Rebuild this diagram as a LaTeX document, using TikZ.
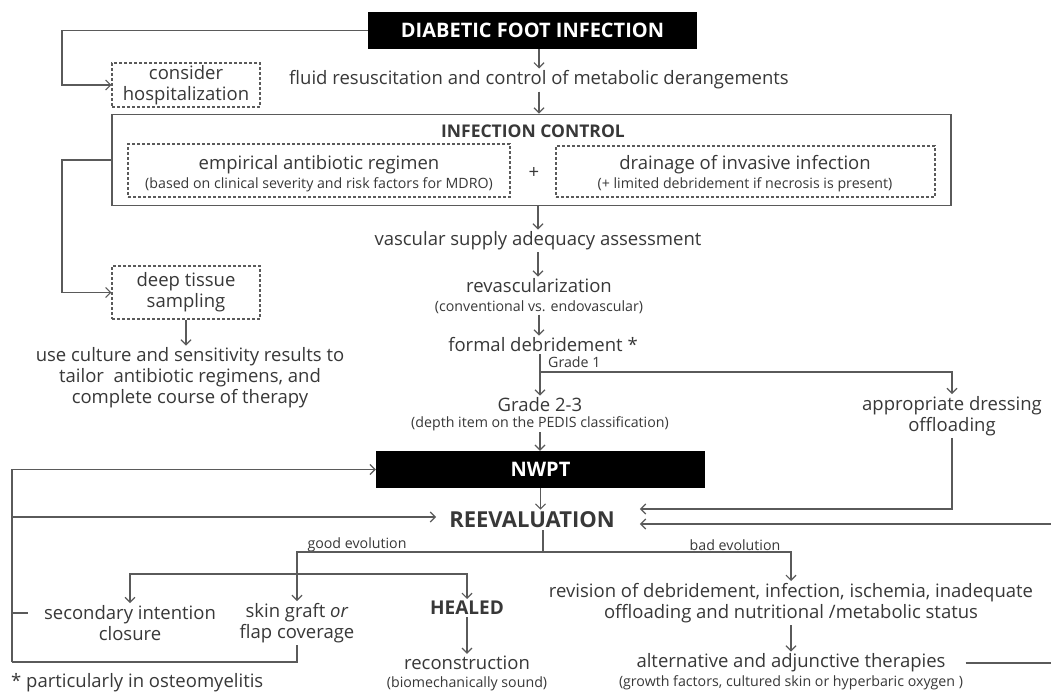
\documentclass[tikz,border=0pt]{standalone}
\usepackage{fontspec}
\setmainfont{Open Sans}
\usetikzlibrary{arrows.meta,calc}
\definecolor{lc}{HTML}{5A5A5A}
\definecolor{tc}{HTML}{383838}
\begin{document}
\begin{tikzpicture}[x=1pt,y=-1pt,
  conn/.style={draw=lc, line width=1.2pt},
  arr/.style={conn, -{Straight Barb[length=5pt,width=10pt]}},
  txt/.style={text=tc, font=\fontsize{18.5}{21}\selectfont, align=center, inner sep=2pt},
  sm/.style={text=tc, font=\fontsize{14.2}{16}\selectfont, inner sep=1pt},
  bold/.style={text=tc, font=\bfseries\fontsize{19}{22}\selectfont, inner sep=2pt},
  blk/.style={fill=black, text=white, font=\bfseries\fontsize{20}{22}\selectfont, minimum width=329pt, minimum height=37pt, inner sep=0pt},
  dbox/.style={draw=lc, line width=1.1pt, dash pattern=on 3pt off 2pt, text=tc, font=\fontsize{18.5}{21}\selectfont, align=center, inner sep=0pt},
]
\useasboundingbox (0,0) rectangle (1051,693);
\fill[white] (0,0) rectangle (1051,693);
\coordinate (lft) at (62,0);
\coordinate (br) at (540,372);
\coordinate (rb) at (543,552);
\coordinate (gb) at (297,574);
\coordinate (bl) at (12,662);
\coordinate (redge) at (1062,0);

% nodes
\node[blk] (title) at (532.5,30.5) {DIABETIC FOOT INFECTION};
\node[dbox, minimum width=148pt, minimum height=44pt] (hosp) at (186,85) {consider\\hospitalization};
\node[txt] (fluid) at (539,80) {fluid resuscitation and control of metabolic derangements};
\node[draw=lc, line width=1.8pt, minimum width=839pt, minimum height=91pt, inner sep=0pt] (ic) at (531.5,160) {};
\node[bold, font=\bfseries\fontsize{17.5}{20}\selectfont] (ict) at (533,131) {INFECTION CONTROL};
\node[dbox, minimum width=382pt, minimum height=53pt] (emp) at (319,170.5) {};
\node[txt] (empt) at (319,165) {empirical antibiotic regimen};
\node[sm] (emps) at (319,185) {(based on clinical severity and risk factors for MDRO)};
\node[txt] (plus) at (534,173) {+};
\node[dbox, minimum width=379pt, minimum height=51pt] (drain) at (745.5,171.5) {};
\node[txt] (drt) at (745,165) {drainage of invasive infection};
\node[sm] (drs) at (745,185) {(+ limited debridement if necrosis is present)};
\node[txt] (vasc) at (538,241) {vascular supply adequacy assessment};
\node[txt] (revasc) at (539,286) {revascularization};
\node[sm] (revascs) at (539,307) {(conventional vs. endovascular)};
\node[txt] (debr) at (543,345) {formal debridement *};
\node[sm, anchor=west] (g1) at (547,362) {Grade 1};
\node[txt] (g23) at (540,405) {Grade 2-3};
\node[sm] (g23s) at (540,424) {(depth item on the PEDIS classification)};
\node[txt] (dress) at (952,416) {appropriate dressing\\offloading};
\node[blk] (nwpt) at (540.5,469.5) {NWPT};
\node[bold, font=\bfseries\fontsize{22}{24}\selectfont, inner xsep=13pt] (reeval) at (532,520) {REEVALUATION};
\node[dbox, minimum width=148pt, minimum height=53pt] (deep) at (186,292.5) {deep tissue\\sampling};
\node[txt] (culture) at (190,378) {use culture and sensitivity results to\\tailor\ \ antibiotic regimens, and\\complete course of therapy};
\node[sm] (good) at (357,545) {good evolution};
\node[sm] (bad) at (735,545) {bad evolution};
\node[txt] (sec) at (130,623) {secondary intention\\closure};
\node[txt] (skin) at (297,623) {skin graft \textit{or}\\flap coverage};
\node[bold] (healed) at (467,608) {HEALED};
\node[txt] (recon) at (467,663) {reconstruction};
\node[sm] (recons) at (467,684) {(biomechanically sound)};
\node[txt] (rev) at (791,603) {revision of debridement, infection, ischemia, inadequate\\offloading and nutritional /metabolic status};
\node[txt] (alt) at (791,663) {alternative and adjunctive therapies};
\node[sm] (alts) at (791,683) {(growth factors, cultured skin or hyperbaric oxygen )};
\node[txt, anchor=west] (foot) at (9,683) {* particularly in osteomyelitis};
\coordinate (sect) at ($(sec.west)+(0,-10)$);

% connectors
\draw[arr] (title.west) -- (title.west -| lft) |- (hosp.west);
\draw[arr] (fluid.north |- title.south) -- (fluid.north);
\draw[arr] (fluid.south) -- (fluid.south |- ic.north);
\draw[arr] (ic.west) -- (ic.west -| lft) |- (deep.west);
\draw[arr] (deep.south) -- (deep.south |- culture.north);
\draw[arr] (vasc.north |- ic.south) -- (vasc.north);
\draw[arr] (vasc.south) -- (vasc.south |- revasc.north);
\draw[arr] (revascs.south) -- (revascs.south |- debr.north);
\draw[arr] (g23.north |- debr.south) -- (g23.north);
\draw[arr] (br) -| (dress.north);
\draw[arr] (g23s.south) -- (g23s.south |- nwpt.north);
\draw[arr] (nwpt.south) -- (nwpt.south |- reeval.north);
\draw[arr] (dress.south) |- ($(reeval.east)+(12,-11)$);
\draw[arr] ([xshift=18pt]alt.east) -- (alt.east -| redge) |- ($(reeval.east)+(12,4)$);
\draw[conn] (reeval.south -| rb) -- (rb);
\draw[arr] (rb) -| (skin.north);
\draw[arr] (rb) -| (rev.north);
\draw[arr] (gb) -| (sec.north);
\draw[arr] (gb) -| (healed.north);
\draw[arr] (healed.south) -- (recon.north);
\draw[arr] (rev.south) -- (alt.north);
\draw[conn] (skin.south) |- (bl);
\draw[arr] (bl) |- (nwpt.west);
\draw[arr] (bl) |- ($(reeval.west)+(0,-3)$);
\draw[conn] (sect -| bl) -- ++(16,0);
\end{tikzpicture}
\end{document}
